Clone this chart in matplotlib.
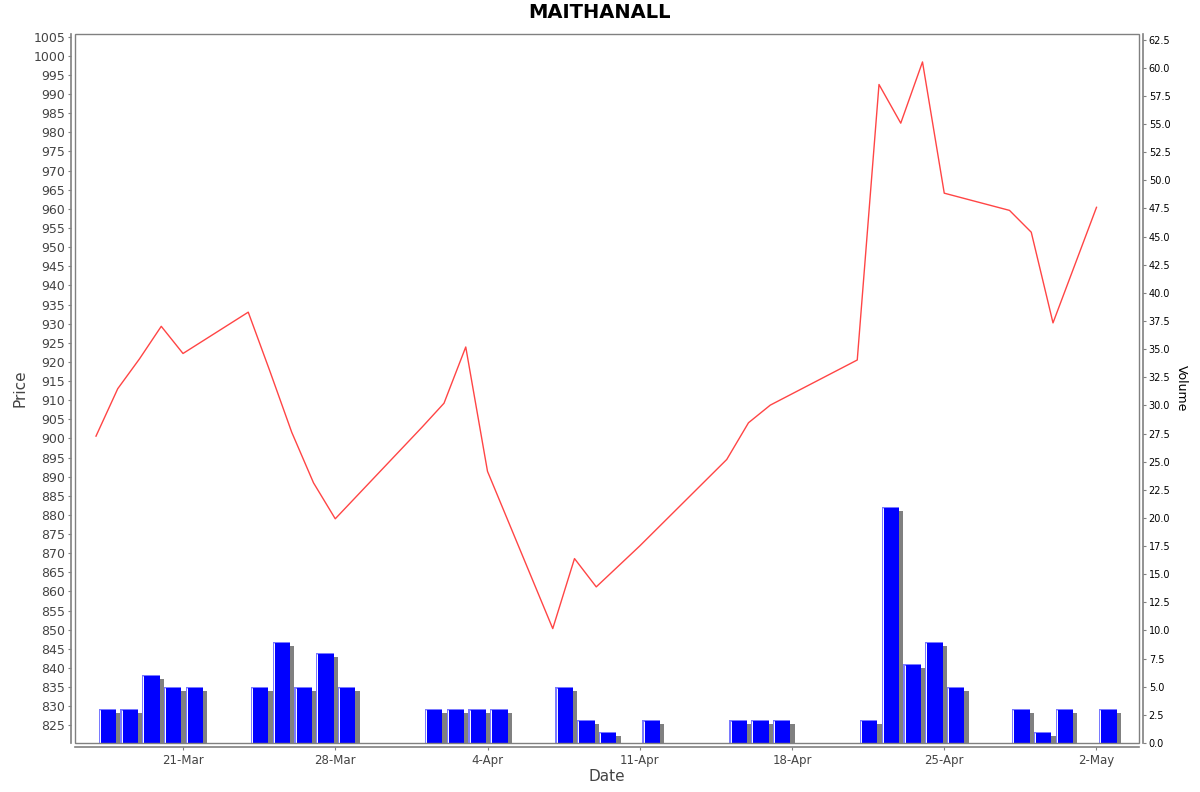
import numpy as np
import matplotlib
matplotlib.use('Agg')
import matplotlib.pyplot as plt
import matplotlib.dates as mdates
from matplotlib.patches import Rectangle
from matplotlib.ticker import MultipleLocator, FormatStrFormatter, FuncFormatter

# trading days (NSE holidays skipped)
dates = ['2025-03-17', '2025-03-18', '2025-03-19', '2025-03-20', '2025-03-21',
         '2025-03-24', '2025-03-25', '2025-03-26', '2025-03-27', '2025-03-28',
         '2025-04-01', '2025-04-02', '2025-04-03', '2025-04-04',
         '2025-04-07', '2025-04-08', '2025-04-09', '2025-04-11',
         '2025-04-15', '2025-04-16', '2025-04-17',
         '2025-04-21', '2025-04-22', '2025-04-23', '2025-04-24', '2025-04-25',
         '2025-04-28', '2025-04-29', '2025-04-30', '2025-05-02']

prices = [900.6, 913.0, 920.8, 929.3, 922.2,
          933.0, 917.5, 901.6, 888.4, 879.0,
          903.0, 909.2, 923.9, 891.4,
          850.3, 868.6, 861.2, 871.9,
          894.5, 904.1, 908.7,
          920.5, 992.5, 982.4, 998.4, 964.1,
          959.6, 953.9, 930.2, 960.4]

volumes = [3, 3, 6, 5, 5,
           5, 9, 5, 8, 5,
           3, 3, 3, 3,
           5, 2, 1, 2,
           2, 2, 2,
           2, 21, 7, 9, 5,
           3, 1, 3, 3]

x = mdates.date2num(np.array(dates, dtype='datetime64[D]'))
vol = np.array(volumes, dtype=float)

W, H = 1200, 792
fig = plt.figure(figsize=(W / 100, H / 100), dpi=100)
ax = fig.add_axes([75 / W, 1 - 743 / H, (1139 - 75) / W, (743 - 34) / H])
ax2 = ax.twinx()

px_day = 21.75    # pixels per day
px_vol = 11.25    # pixels per volume unit

# volume bars: shadow, light rim, white seam, blue body
x0 = x + 0.12
ax2.bar(x0 + 4.4 / px_day, vol - 4 / px_vol, width=0.8, align='edge',
        color='#808080', zorder=1)
ax2.bar(x0, vol, width=0.8, align='edge', color='#7a7aff', zorder=2)
ax2.bar(x0 + 2 / px_day, vol - 1 / px_vol, width=0.8 - 2 / px_day, align='edge',
        color='#0000ff', zorder=3)
ax2.vlines(x0 + 1.2 / px_day, 0, vol - 1 / px_vol, color='white', lw=0.7, zorder=4)
ax2.set_ylim(0, 63)

# price line on top
ax.set_zorder(ax2.get_zorder() + 1)
ax.patch.set_visible(False)
ax.plot(x, prices, color='#ff4545', lw=1.0)
ax.set_ylim(820.4, 1005.7)
ax.set_xlim(x[0] - 21 / px_day, x[0] + (1139 - 96) / px_day)

grey = '#808080'
txt = '#444444'
for a in (ax, ax2):
    for s in a.spines.values():
        s.set_visible(False)
ax.spines['left'].set_visible(True)
ax.spines['bottom'].set_visible(True)
ax2.spines['right'].set_visible(True)
ax.spines['left'].set_position(('outward', 3))
ax.spines['bottom'].set_position(('outward', 3))
ax2.spines['right'].set_position(('outward', 3))
for s in (ax.spines['left'], ax.spines['bottom'], ax2.spines['right']):
    s.set_color(grey)
    s.set_linewidth(1.2)
ax.add_patch(Rectangle((0, 0), 1, 1, transform=ax.transAxes, fill=False,
                       edgecolor=grey, lw=1.0, clip_on=False, zorder=5))

ax.yaxis.set_major_locator(MultipleLocator(5))
ax2.yaxis.set_major_locator(MultipleLocator(2.5))
ax2.yaxis.set_major_formatter(FormatStrFormatter('%.1f'))
ax.xaxis.set_major_locator(mdates.WeekdayLocator(byweekday=mdates.FR))
ax.xaxis.set_major_formatter(FuncFormatter(
    lambda v, p: '%d-%s' % (mdates.num2date(v).day, mdates.num2date(v).strftime('%b'))))

ax.tick_params(axis='y', length=2, color=grey, labelcolor=txt, labelsize=9, pad=2)
ax.tick_params(axis='x', length=2, color=grey, labelcolor=txt, labelsize=8.5, pad=3)
ax2.tick_params(axis='y', length=2, color=grey, labelcolor='black', labelsize=7, pad=2)

ax.set_ylabel('Price', fontsize=11, color=txt)
ax.yaxis.set_label_coords(-0.045, 0.5)
ax.set_xlabel('Date', fontsize=11, color=txt)
ax.xaxis.set_label_coords(0.5, -0.037)
ax2.set_ylabel('Volume', fontsize=9, color='black', rotation=270, va='center')
ax2.yaxis.set_label_coords(1.0395, 0.5)

fig.text(0.5, 1 - 13 / H, 'MAITHANALL', ha='center', va='center',
         fontsize=14, fontweight='bold')

fig.savefig('out.png', dpi=100)
